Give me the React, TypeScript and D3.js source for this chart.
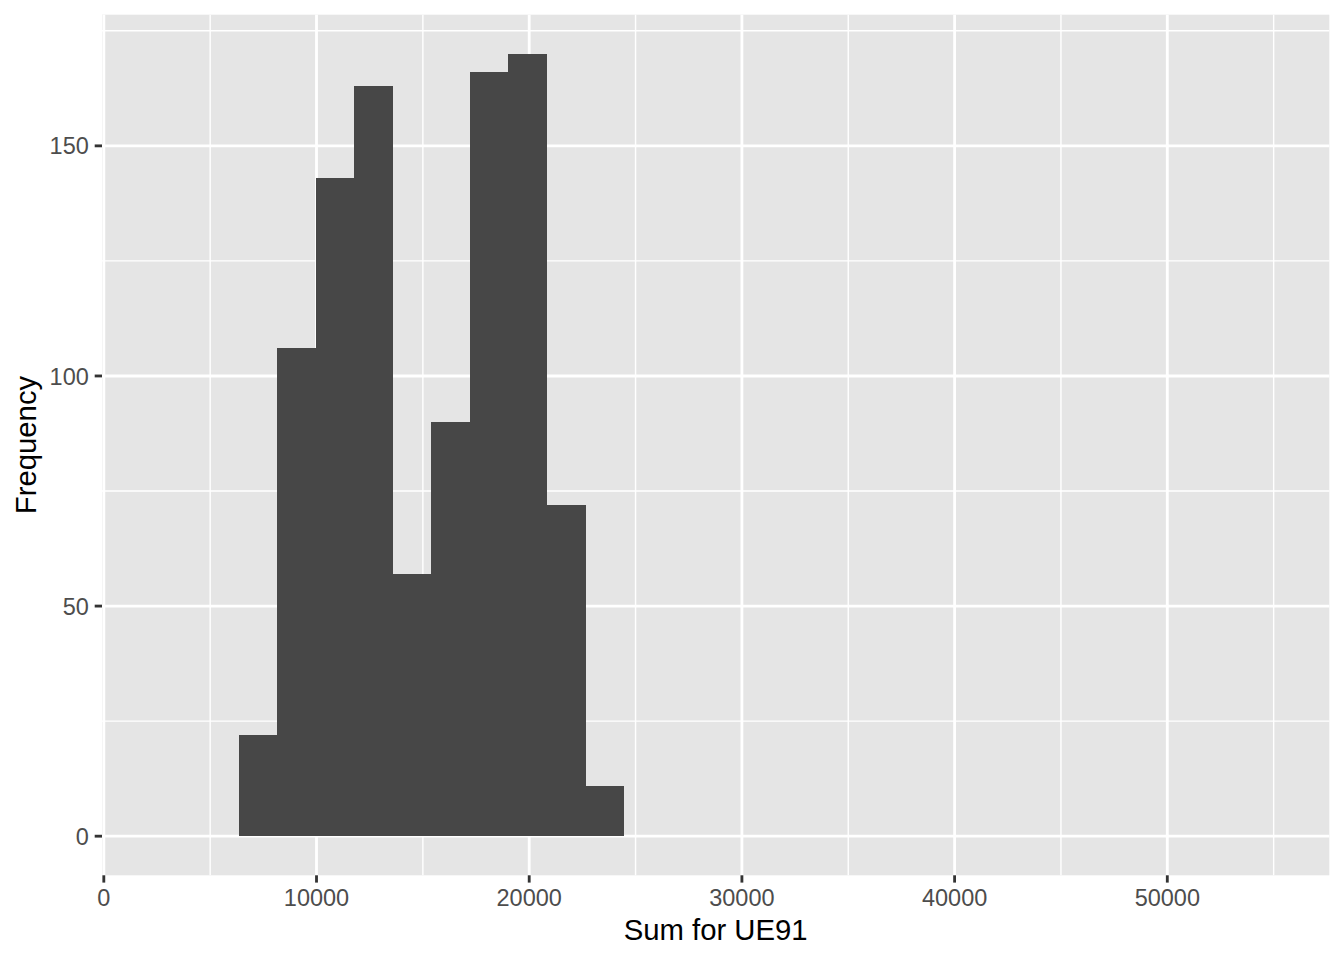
import React from "react";
import * as d3 from "d3";

// Histogram bins (left/right edges) and counts
const binEdges = [6356, 8166, 9976, 11786, 13596, 15406, 17216, 19026, 20836, 22646, 24456];
const counts = [22, 106, 143, 163, 57, 90, 166, 170, 72, 11];
const xMajor = [0, 10000, 20000, 30000, 40000, 50000];
const xMinor = [5000, 15000, 25000, 35000, 45000, 55000];
const yMajor = [0, 50, 100, 150];
const yMinor = [25, 75, 125, 175];
const xTitle = "Sum for UE91";
const yTitle = "Frequency";

const W = 1344;
const H = 960;
const panel = { left: 102, right: 1329.3, top: 14.7, bottom: 875.3 };
const FONT = "'Liberation Sans', Arial, Helvetica, sans-serif";

export default function App() {
  const x = d3.scaleLinear().domain([-85, 57616]).range([panel.left, panel.right]);
  const y = d3.scaleLinear().domain([-8.5, 178.5]).range([panel.bottom, panel.top]);
  const bins = counts.map((c, i) => ({ x0: binEdges[i], x1: binEdges[i + 1], c }));
  const tickLen = 7.3;
  const majorW = 2.84;
  const minorW = 1.42;

  return (
    <svg
      width={W}
      height={H}
      style={{ position: "absolute", left: 0, top: 0, background: "#fff" }}
      fontFamily={FONT}
    >
      <rect x={0} y={0} width={W} height={H} fill="#ffffff" />
      <rect
        x={panel.left}
        y={panel.top}
        width={panel.right - panel.left}
        height={panel.bottom - panel.top}
        fill="#E5E5E5"
      />
      {xMinor.map((v) => (
        <line key={"xm" + v} x1={x(v)} x2={x(v)} y1={panel.top} y2={panel.bottom} stroke="#fff" strokeWidth={minorW} />
      ))}
      {yMinor.map((v) => (
        <line key={"ym" + v} x1={panel.left} x2={panel.right} y1={y(v)} y2={y(v)} stroke="#fff" strokeWidth={minorW} />
      ))}
      {xMajor.map((v) => (
        <line key={"xM" + v} x1={x(v)} x2={x(v)} y1={panel.top} y2={panel.bottom} stroke="#fff" strokeWidth={majorW} />
      ))}
      {yMajor.map((v) => (
        <line key={"yM" + v} x1={panel.left} x2={panel.right} y1={y(v)} y2={y(v)} stroke="#fff" strokeWidth={majorW} />
      ))}
      <g shapeRendering="crispEdges">
        {bins.map((b, i) => (
          <rect
            key={"b" + i}
            x={x(b.x0)}
            width={x(b.x1) - x(b.x0) + 0.5}
            y={y(b.c)}
            height={y(0) - y(b.c)}
            fill="#474747"
          />
        ))}
      </g>
      {/* y axis ticks and labels */}
      {yMajor.map((v) => (
        <g key={"yt" + v}>
          <line x1={panel.left - tickLen} x2={panel.left} y1={y(v)} y2={y(v)} stroke="#333333" strokeWidth={majorW} />
          <text x={panel.left - tickLen - 5.9} y={y(v) + 8.6} textAnchor="end" fontSize={23.5} fill="#4D4D4D">
            {v}
          </text>
        </g>
      ))}
      {/* x axis ticks and labels */}
      {xMajor.map((v) => (
        <g key={"xt" + v}>
          <line x1={x(v)} x2={x(v)} y1={panel.bottom} y2={panel.bottom + tickLen} stroke="#333333" strokeWidth={majorW} />
          <text x={x(v)} y={906} textAnchor="middle" fontSize={23.5} fill="#4D4D4D">
            {v}
          </text>
        </g>
      ))}
      <text x={(panel.left + panel.right) / 2} y={939.5} textAnchor="middle" fontSize={29.3} fill="#000">
        {xTitle}
      </text>
      <text
        transform={`translate(35.5, ${(panel.top + panel.bottom) / 2}) rotate(-90)`}
        textAnchor="middle"
        fontSize={29.3}
        fill="#000"
      >
        {yTitle}
      </text>
    </svg>
  );
}
